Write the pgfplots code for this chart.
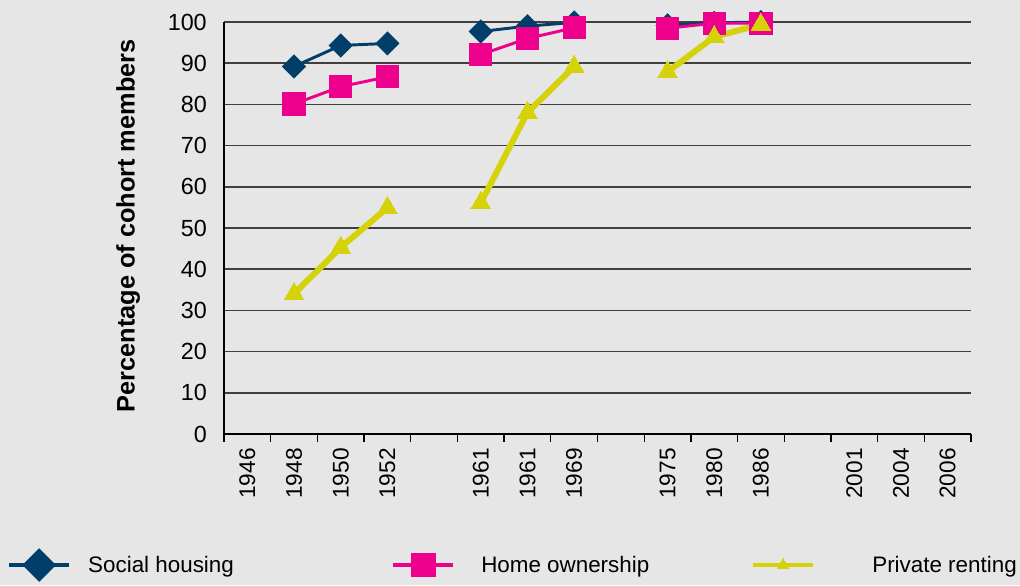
\documentclass[border=0pt]{standalone}
\usepackage{fontspec}
\setmainfont{Liberation Sans}
\usepackage{pgfplots}
\pgfplotsset{compat=1.18}
\definecolor{bg}{HTML}{E5E6E5}
\definecolor{navy}{HTML}{023E6A}
\definecolor{pinkc}{HTML}{EC008C}
\definecolor{yell}{HTML}{D5D20A}
\definecolor{gridc}{HTML}{404040}
\begin{document}
\begin{tikzpicture}
\fill[bg,use as bounding box] (-168pt,-113.25pt) rectangle (597pt,325.5pt);
\begin{axis}[
  at={(0pt,0pt)}, anchor=south west,
  scale only axis, width=560.25pt, height=309pt,
  xmin=0.5, xmax=16.5, ymin=0, ymax=100,
  axis x line=bottom, axis y line=left,
  axis line style={-, black, line width=1pt},
  xtick={1,...,16},
  xticklabels={1946,1948,1950,1952,,1961,1961,1969,,1975,1980,1986,,2001,2004,2006},
  minor xtick={0.5,1.5,...,16.5},
  major tick length=0pt, minor tick length=6pt, tick align=outside,
  minor tick style={black, line width=1pt},
  ytick={0,10,...,100},
  ymajorgrids, grid style={gridc, line width=1.2pt},
  tick label style={font=\fontsize{17}{20}\selectfont, inner sep=0pt},
  yticklabel style={font=\fontsize{17.5}{20}\selectfont},
  /pgf/number format/assume math mode=true,
  xticklabel style={rotate=90, anchor=east},
  xticklabel shift=10.5pt,
  yticklabel shift=12.75pt,
  ylabel={Percentage of cohort members},
  ylabel style={font=\bfseries\fontsize{19}{22}\selectfont, at={(axis description cs:-0.1285,0.505)}, anchor=center},
  clip=false,
  unbounded coords=jump,
  legend columns=3,
  legend style={at={(axis description cs:-0.2959,-0.318)}, anchor=west, draw=none, fill=none,
    font=\fontsize{16.8}{19}\selectfont, nodes={inner sep=0pt},
    /tikz/column 1/.style={column sep=12.75pt},
    /tikz/column 2/.style={column sep=118pt},
    /tikz/column 3/.style={column sep=19.5pt},
    /tikz/column 4/.style={column sep=76pt},
    /tikz/column 5/.style={column sep=42.75pt}},
]
\addplot[navy, line width=2.2pt, mark=square*, mark size=5.3pt, mark options={rotate=45, solid},
  legend image code/.code={\draw[mark repeat=2,mark phase=2, mark size=7.4pt, line width=3pt] plot coordinates {(0pt,0pt)(22.5pt,0pt)(45pt,0pt)};}]
coordinates {(2,89.2)(3,94.3)(4,94.8)(5,nan)(6,97.7)(7,99.0)(8,99.9)(9,nan)(10,99.2)(11,99.8)(12,100)};
\addlegendentry{Social housing}
\addplot[pinkc, line width=2.2pt, mark=square*, mark size=7.6pt, mark options={solid},
  legend image code/.code={\draw[mark repeat=2,mark phase=2, mark size=7.8pt, line width=3pt] plot coordinates {(0pt,0pt)(22.5pt,0pt)(45pt,0pt)};}]
coordinates {(2,80.1)(3,84.3)(4,86.7)(5,nan)(6,92.1)(7,96.0)(8,98.6)(9,nan)(10,98.5)(11,99.7)(12,99.7)};
\addlegendentry{Home ownership}
\addplot[yell, line width=4.5pt, mark=triangle*, mark size=8.5pt, mark options={solid, line width=0pt},
  legend image code/.code={\draw[mark repeat=2,mark phase=2, mark size=5pt, line width=3.5pt] plot coordinates {(0pt,0pt)(22.5pt,0pt)(45pt,0pt)};}]
coordinates {(2,34.0)(3,45.3)(4,54.9)(5,nan)(6,56.1)(7,78.0)(8,89.2)(9,nan)(10,87.9)(11,96.4)(12,99.4)};
\addlegendentry{Private renting}
\end{axis}
\end{tikzpicture}
\end{document}
